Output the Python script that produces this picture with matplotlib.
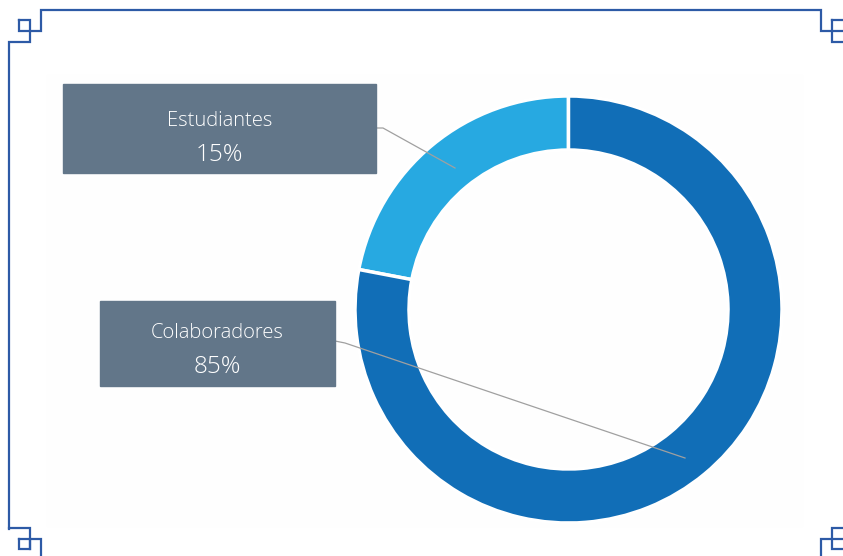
import matplotlib.pyplot as plt
from matplotlib.patches import Rectangle

# data
categories = ['Estudiantes', 'Colaboradores']
pct_labels = ['15%', '85%']
arc_share = [22, 78]          # share of the ring as drawn in the picture
colors = ['#27a9e1', '#116eb7']

W, H = 843, 556
fig = plt.figure(figsize=(W / 100, H / 100), dpi=100)
ax = fig.add_axes([0, 0, 1, 1])

def Y(y):
    return H - y

# faint panel behind the chart
ax.add_patch(Rectangle((47, Y(526)), 755, 451, color='#fefefe', zorder=0))

# donut
cx, cy, r = 568.5, Y(309.5), 213.5
ax.pie(arc_share, colors=colors, startangle=90, counterclock=True,
       center=(cx, cy), radius=r,
       wedgeprops=dict(width=54, edgecolor='white', linewidth=2.5))

# leader lines
line_kw = dict(color='#a0a0a0', lw=0.9, zorder=3)
ax.plot([376, 383, 455], [Y(128), Y(128), Y(168)], **line_kw)
ax.plot([335, 345, 685], [Y(341), Y(343), Y(458)], **line_kw)

# label boxes
boxes = [(63, 84, 313, 89), (100, 301, 235, 85)]
text_y = [(121, 155), (333, 367)]
for (x0, y0, w, h), (t1, t2), name, pct in zip(boxes, text_y, categories, pct_labels):
    ax.add_patch(Rectangle((x0, Y(y0 + h)), w, h, color='#627689', zorder=4))
    xc = x0 + w / 2
    ax.text(xc, Y(t1), name, color='white', fontsize=14.5, family='Open Sans',
            weight='light', ha='center', va='center', zorder=5)
    ax.text(xc, Y(t2), pct, color='white', fontsize=17.5, family='Open Sans',
            weight='light', ha='center', va='center', zorder=5)

# decorative frame
fc = '#2d5aa6'
fk = dict(color=fc, lw=1.6, solid_joinstyle='miter', zorder=6)
# top left
ax.plot([9, 9, 30, 30, 41, 41, 821, 821, 845], [Y(529), Y(42), Y(42), Y(31), Y(31), Y(10), Y(10), Y(31), Y(31)], **fk)
ax.plot([19, 30, 30, 19, 19], [Y(20), Y(20), Y(31), Y(31), Y(20)], **fk)
ax.plot([832, 845], [Y(20), Y(20)], **fk)
ax.plot([832, 832, 845], [Y(20), Y(42), Y(42)], **fk)
# bottom left
ax.plot([9, 30, 30], [Y(528), Y(528), Y(549)], **fk)
ax.plot([19, 30, 30, 19, 19], [Y(539), Y(539), Y(549), Y(549), Y(539)], **fk)
ax.plot([30, 41, 41], [Y(539), Y(539), Y(558)], **fk)
# bottom right
ax.plot([821, 821, 845], [Y(558), Y(539), Y(539)], **fk)
ax.plot([845, 832, 832, 845], [Y(528), Y(528), Y(549), Y(549)], **fk)

ax.set_xlim(0, W)
ax.set_ylim(0, H)
ax.set_aspect('equal')
ax.axis('off')

fig.savefig('out.png', dpi=100, facecolor='white')
